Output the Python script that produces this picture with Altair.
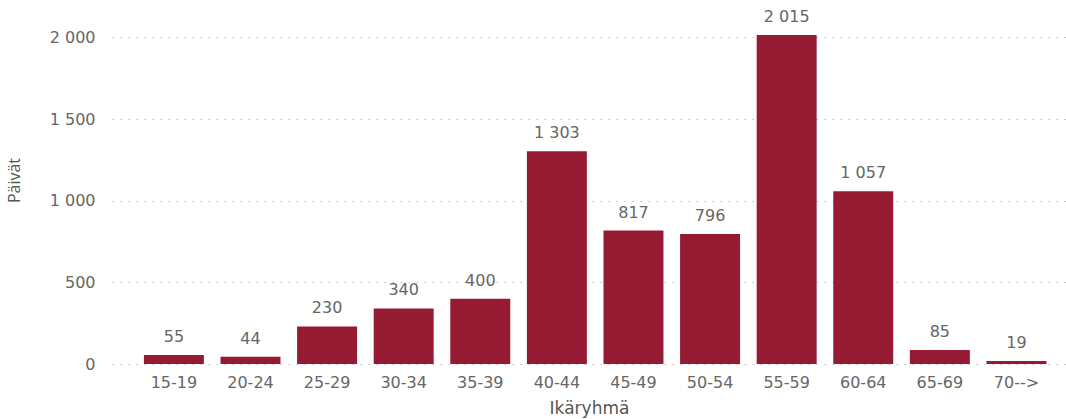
import altair as alt
import pandas as pd

categories = ["15-19", "20-24", "25-29", "30-34", "35-39", "40-44",
              "45-49", "50-54", "55-59", "60-64", "65-69", "70-->"]
values = [55, 44, 230, 340, 400, 1303, 817, 796, 2015, 1057, 85, 19]

df = pd.DataFrame({"cat": categories, "val": values})
df["lab"] = [f"{v:,}".replace(",", " ") for v in values]

FONT = "DejaVu Sans"
BAR = "#951b32"

x = alt.X("cat:N", sort=categories, title="Ikäryhmä",
          scale=alt.Scale(paddingInner=0.217, paddingOuter=0.336, align=0.62),
          axis=alt.Axis(labelAngle=0, domain=False, ticks=False, labelPadding=10,
                        labelFontSize=16, labelColor="#666666", labelFont=FONT,
                        titleFontSize=17, titleColor="#555555", titleFont=FONT,
                        titleFontWeight="normal", titlePadding=10))
y = alt.Y("val:Q", title="Päivät",
          scale=alt.Scale(domain=[0, 2100], nice=False),
          axis=alt.Axis(values=[0, 500, 1000, 1500, 2000], domain=False, ticks=False,
                        labelExpr="replace(format(datum.value, ','), ',', ' ')",
                        labelPadding=17, labelFontSize=16, labelColor="#666666",
                        labelFont=FONT, titleFontSize=16, titleColor="#555555",
                        titleFont="Open Sans", titleFontWeight="normal",
                        titleX=-90, titleY=159, titleAngle=270,
                        titleBaseline="bottom", titleAlign="center",
                        grid=True, gridDash=[1.5, 6.5], gridColor="#bbbbbb",
                        gridWidth=1.2))

bars = alt.Chart(df).mark_bar(color=BAR).encode(x=x, y=y)
text = alt.Chart(df).mark_text(baseline="alphabetic", dy=-13, fontSize=16,
                               color="#666666", font=FONT).encode(
    x=alt.X("cat:N", sort=categories), y="val:Q", text="lab:N")

chart = (bars + text).properties(
    width=954, height=343,
    padding={"left": 112, "top": 21, "right": 0, "bottom": 55},
    autosize=alt.AutoSizeParams(type="none"),
).configure_view(stroke=None)

chart.save("out.html", embed_options={"renderer": "svg", "actions": False})
